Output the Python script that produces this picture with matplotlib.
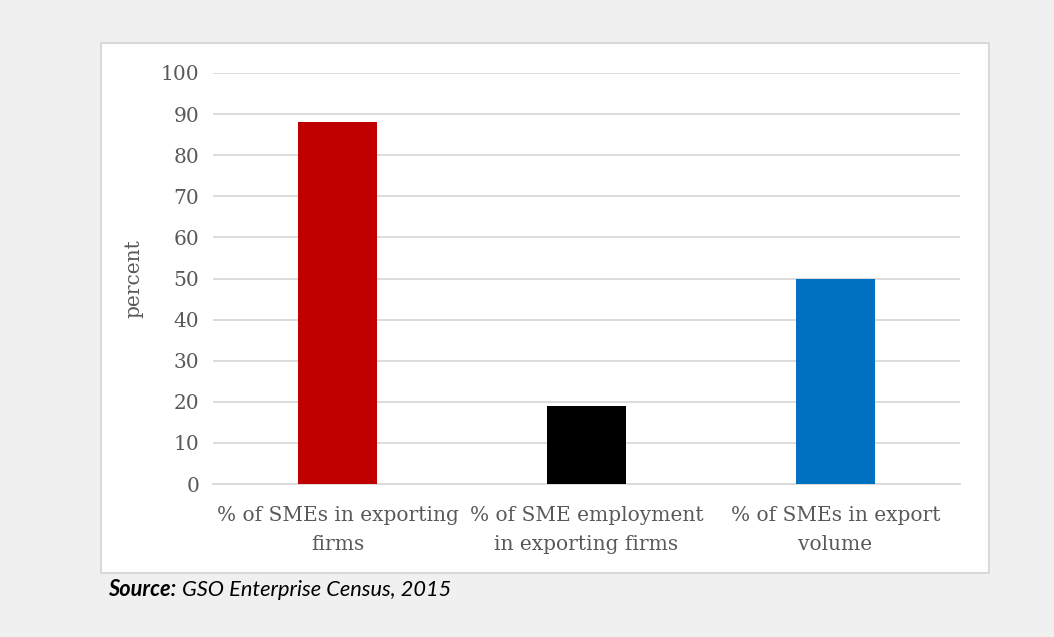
import matplotlib.pyplot as plt
from matplotlib.patches import Rectangle

categories = ['% of SMEs in exporting\nfirms',
              '% of SME employment\nin exporting firms',
              '% of SMEs in export\nvolume']
values = [88, 19, 50]
colors = ['#c00000', '#000000', '#0070c0']
yticks = [0, 10, 20, 30, 40, 50, 60, 70, 80, 90, 100]

fig = plt.figure(figsize=(10.54, 6.37), dpi=100)
fig.patch.set_facecolor('#f0f0f0')

# white chart panel with thin gray border
panel = Rectangle((101 / 1054, 1 - 573 / 637), (989 - 101) / 1054, (573 - 43) / 637,
                  transform=fig.transFigure, facecolor='white', edgecolor='#d9d9d9',
                  linewidth=1.5, zorder=-1)
fig.patches.append(panel)

ax = fig.add_axes([213 / 1054, 1 - 484 / 637, (960 - 213) / 1054, (484 - 73) / 637])
ax.patch.set_alpha(0)

x = range(len(values))
ax.bar(x, values, width=0.32, color=colors, zorder=3)

ax.set_xlim(-0.5, 2.5)
ax.set_ylim(0, 100)
ax.set_yticks(yticks)
ax.set_xticks(list(x))
ax.set_xticklabels(categories, linespacing=1.62)
ax.yaxis.grid(True, color='#d9d9d9', linewidth=1.3, zorder=0)
ax.set_axisbelow(True)

for s in ['top', 'right', 'left']:
    ax.spines[s].set_visible(False)
ax.spines['bottom'].set_color('#d9d9d9')
ax.spines['bottom'].set_linewidth(1.3)
ax.tick_params(length=0, colors='#595959', labelsize=14.5)
ax.tick_params(axis='y', pad=10)
ax.tick_params(axis='x', pad=16)
for lbl in ax.get_xticklabels() + ax.get_yticklabels():
    lbl.set_family('DejaVu Serif')
    lbl.set_color('#595959')

ax.set_ylabel('percent', fontsize=14.5, color='#595959', family='DejaVu Serif', labelpad=12)

src = fig.text(108 / 1054, 1 - 590 / 637, 'Source:', fontsize=15.7, fontweight='bold',
               style='italic', family='Lato', va='center', ha='left')
fig.canvas.draw()
src_end = src.get_window_extent().x1
fig.text((src_end + 6) / 1054, 1 - 590 / 637, 'GSO Enterprise Census, 2015', fontsize=15.7,
         style='italic', family='Lato', va='center', ha='left')

plt.savefig('out.png', dpi=100, facecolor=fig.get_facecolor())
